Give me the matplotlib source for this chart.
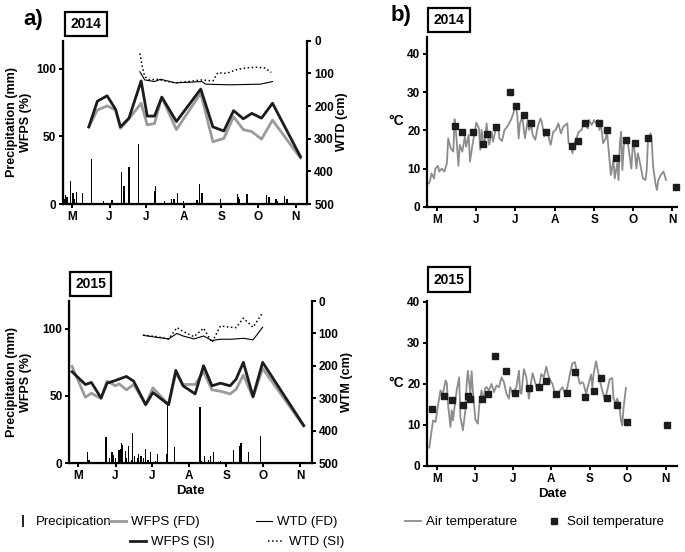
import matplotlib
matplotlib.use("Agg")
import matplotlib.pyplot as plt
from matplotlib.lines import Line2D

plt.rcParams["font.family"] = ["Liberation Sans", "DejaVu Sans"]

# day of year for the month starts shown on every x axis
month_ticks = [121, 152, 182, 213, 244, 274, 305]
month_labels = ["M", "J", "J", "A", "S", "O", "N"]

# ---- 2014, panel a ----
rain_doy_14 = [115, 116, 117, 120, 122, 123, 125, 130, 137, 143, 147, 154, 162, 164, 168, 176, 181, 184, 189, 190,
               197, 203, 205, 208, 213, 218, 224, 226, 228, 232, 243, 257, 258, 259, 261, 263, 265, 281, 283, 289,
               290, 292, 294, 296, 298]
rain_14 = [4, 6.5, 5, 17, 8, 4, 9, 8.5, 33, 1, 2.5, 3, 23.5, 13.5, 27.5, 44, 1, 1, 9.5, 13,
           2, 4, 4, 8.5, 2, 0.5, 3, 15, 8, 0.5, 3.5, 7.5, 5.5, 4, 1, 1, 7.5, 6.5, 5.5, 3.5,
           2, 1, 1, 6, 3.5]
wfps_doy_14 = [135, 142, 150, 157, 161, 168, 178, 183, 189, 195, 207, 227, 237, 246, 254, 262, 269, 277, 286, 309]
wfps_si_14 = [57, 76, 80, 70, 57, 63.5, 91, 65, 65, 79, 61, 85, 57, 54, 69, 63, 67, 63.5, 74.5, 35]
wfps_fd_14 = [57, 69.5, 72.5, 69.5, 56, 63, 74.5, 58.5, 59.5, 79, 55, 82, 46, 48.5, 64.5, 55, 53.5, 48, 62, 34]
wtd_si_doy_14 = [177, 179, 181, 185, 191, 198, 206, 217, 228, 237, 241, 248, 257, 265, 274, 280, 285]
wtd_si_14 = [39, 80, 110, 120, 118, 123, 129, 125, 120, 123, 98, 100, 88, 83, 81, 84, 97]
wtd_fd_doy_14 = [177, 181, 189, 194, 206, 228, 231, 251, 276, 286]
wtd_fd_14 = [95, 120, 125, 118, 129, 125, 133, 135, 133, 125]

# ---- 2015, panel a ----
rain_doy_15 = [116, 129, 130, 132, 144, 147, 149, 150, 152, 155, 156, 157, 158, 160, 161, 163, 165, 166, 168, 170,
               171, 173, 175, 177, 179, 181, 185, 187, 194, 195, 201, 216, 222, 223, 226, 229, 231, 233, 238, 239,
               250, 251, 255, 256, 262, 272]
rain_15 = [1, 8.5, 2.5, 1, 19.5, 3.5, 8.5, 6, 4, 10, 10.5, 15, 13.5, 9, 3.5, 13, 2.5, 22.5, 5.5, 4,
           7, 5.5, 3.5, 10.5, 2.5, 8.5, 1.5, 6.5, 6.5, 43, 12, 0.5, 41.5, 1.5, 5.5, 2.5, 5, 8, 1, 1.5,
           9.5, 1, 13, 15, 8, 20.5]
wfps_doy_15 = [116, 127, 132, 140, 145, 152, 155, 161, 167, 177, 183, 196, 202, 208, 218, 225, 232, 239, 247, 252,
               258, 266, 274, 308]
wfps_si_15 = [68, 58.5, 60, 48.5, 59.5, 61.5, 62.5, 64.5, 61, 43.5, 52.5, 43.5, 69, 57.5, 51.5, 72.5, 57.5, 59.5,
              57.5, 62.5, 75, 49.5, 75, 28]
wfps_fd_15 = [72, 49, 52, 48, 61, 57.5, 59, 54.5, 58.5, 43.5, 56, 43.5, 67, 58.5, 58.5, 68, 54.5, 53.5, 51.5, 55,
              65.5, 49, 70.5, 27.5]
wtd_doy_15 = [175, 186, 196, 203, 208, 217, 225, 232, 239, 247, 252, 258, 266, 274]
wtd_si_15 = [105, 110, 117, 82, 94, 110, 84, 128, 77, 81, 82, 53, 81, 36]
wtd_fd_15 = [106, 112, 117, 100, 108, 117, 108, 122, 118, 118, 117, 115, 120, 81]

# ---- temperatures, panel b ----
air_doy_14 = [115, 116, 117, 119, 120, 122, 123, 125, 127, 129, 130, 132, 134, 135, 136, 138, 139, 141, 143, 144,
              146, 147, 149, 152, 154, 155, 156, 158, 160, 161, 162, 164, 165, 167, 169, 170, 172, 174, 176, 179,
              181, 182, 183, 184, 185, 186, 188, 189, 190, 192, 193, 195, 196, 198, 200, 202, 203, 205, 206, 208,
              210, 212, 214, 216, 218, 220, 223, 224, 226, 227, 228, 230, 232, 234, 235, 236, 239, 240, 242, 244,
              246, 247, 248, 249, 251, 253, 254, 257, 259, 260, 262, 263, 264, 265, 266, 267, 268, 270, 271, 273,
              274, 275, 277, 278, 279, 281, 282, 284, 285, 286, 288, 289, 290, 292, 293, 294, 296, 298, 299, 300]
air_14 = [6.1, 7, 8.7, 7.4, 10, 10.7, 9.2, 10, 9.2, 11.4, 17.9, 15.3, 14.4, 22.9, 20.1, 10.7, 16.2, 14.4, 18.3, 15.7,
          18.8, 11.8, 16.2, 22, 20.5, 14.9, 20.1, 15.7, 21.8, 18.3, 16.2, 19.6, 17, 20.1, 21.4, 17.9, 17.2, 20.1, 20.9, 22.7,
          24.5, 26.6, 26.2, 23.6, 17.9, 21.8, 23.6, 20.1, 17.9, 22.7, 20.1, 21, 18.8, 17.5, 21, 23.1, 22.3, 18.4, 20.1, 18.8,
          16.2, 19.6, 20.1, 21.8, 19.2, 21, 21.8, 16.6, 16.2, 14, 16.2, 17.9, 19.6, 20.1, 21, 21.8, 20.5, 22.7, 21.4, 22.7,
          21.4, 22.7, 20.1, 22.3, 16.6, 17.9, 19.6, 8.3, 12.2, 7.4, 11.4, 7, 16.6, 19.6, 9.6, 15.7, 17.9, 17.5, 14.9, 10,
          15.7, 16.2, 10, 14, 12.7, 9.2, 7.4, 7, 9.6, 17.9, 19.2, 16.6, 10.5, 5.7, 4.4, 7, 8.3, 9.2, 8.3, 7]
soil_doy_14 = [135, 141, 149, 157, 160, 167, 178, 183, 189, 195, 206, 227, 231, 237, 248, 254, 261, 269, 276, 286, 308]
soil_14 = [21.2, 19.6, 19.5, 16.4, 19, 20.8, 29.9, 26.4, 24, 22, 19.6, 16, 17.3, 21.8, 21.8, 20.1, 12.7, 17.5, 16.6,
           17.9, 5.2]

air_doy_15 = [115, 118, 120, 122, 124, 126, 128, 129, 130, 132, 133, 134, 137, 139, 140, 142, 144, 145, 146, 148,
              149, 150, 152, 154, 155, 157, 158, 160, 161, 163, 165, 167, 169, 171, 173, 175, 177, 179, 180, 182,
              185, 187, 188, 189, 191, 193, 195, 197, 198, 199, 201, 203, 205, 207, 209, 211, 213, 214, 216, 218,
              220, 222, 224, 226, 228, 230, 232, 234, 236, 238, 239, 241, 243, 245, 246, 247, 249, 251, 252, 254,
              256, 258, 260, 262, 263, 265, 266, 268, 269, 270, 271, 273]
air_15 = [4.5, 11.1, 10.7, 14.8, 18.4, 17.6, 20.8, 20.4, 15.2, 9.5, 13.6, 11.1, 18.4, 21.6, 11.9, 8.7, 13.6, 20, 23.2, 17.6,
          23.1, 18.4, 11.3, 10.3, 14.4, 18.4, 15.6, 19, 19.2, 18.4, 20, 18, 19.6, 19.2, 21.6, 20.4, 17.6, 16.4, 19.2, 17.6,
          19.2, 23.2, 18, 17.6, 23.6, 21.6, 16.4, 20.8, 22.6, 21.6, 19.2, 19, 22.4, 21.6, 24.2, 21.6, 20.4, 20, 17.6, 16.8,
          18.4, 19.2, 17.6, 19.2, 22.4, 25, 25.3, 22.4, 20, 20.4, 20, 17.6, 20, 22.3, 19.2, 22.4, 25.5, 22.4, 20.8, 18.4,
          16, 18.4, 21.2, 21.4, 16.4, 15.2, 16.4, 14, 11.1, 9.9, 14, 19]
soil_doy_15 = [117, 127, 133, 142, 146, 148, 157, 162, 168, 177, 184, 195, 203, 209, 217, 226, 232, 240, 247, 253,
               258, 266, 274, 306]
soil_15 = [13.8, 17, 16.1, 14.9, 17, 16.2, 16.4, 17.6, 26.7, 23.1, 17.8, 19, 19.2, 20.8, 17.6, 17.8, 23, 16.8, 18.2,
           21.5, 16.5, 14.8, 10.6, 10.1]

W, H = 685, 552
GREY, DARK = "#9b9b9b", "#1c1c1c"
fig = plt.figure(figsize=(W / 100, H / 100), dpi=100)


def px(x, y):
    return x / W, 1 - y / H


def frame(ax, xlim, ylim, yticks):
    ax.set_xlim(*xlim); ax.set_ylim(*ylim)
    ax.set_xticks(month_ticks, month_labels, fontweight="bold")
    ax.set_yticks(yticks, [str(v) for v in yticks], fontweight="bold")
    ax.spines["top"].set_visible(False); ax.spines["right"].set_visible(False)
    for s in ("left", "bottom"):
        ax.spines[s].set_linewidth(1.6)
    ax.tick_params(direction="out", length=3, width=1.4, labelsize=8.5, pad=2)


def moisture_panel(rect, xlim, rain_doy, rain, doy, si, fd, si_doy, wtd_si, fd_doy, wtd_fd, rlabel, lx, ly):
    ax = fig.add_axes(rect)
    ax.bar(rain_doy, rain, width=1.1, color="black", linewidth=0)
    ax.plot(doy, fd, color=GREY, lw=2.0)
    ax.plot(doy, si, color=DARK, lw=2.0)
    frame(ax, xlim, (0, 120.7), [0, 50, 100])
    ax2 = ax.twinx()
    ax2.plot(fd_doy, wtd_fd, color="black", lw=0.8)
    ax2.plot(si_doy, wtd_si, color="black", lw=1.1, ls=":")
    ax2.set_ylim(500, 0)
    ticks = list(range(0, 501, 100))
    ax2.set_yticks(ticks, [str(v) for v in ticks], fontweight="bold")
    ax2.spines["top"].set_visible(False)
    ax2.spines["right"].set_linewidth(1.6)
    ax2.tick_params(direction="out", length=3, width=1.4, labelsize=8.5, pad=2)
    fig.text(*px(19, ly), "Precipitation (mm)\nWFPS (%)", rotation=90, ha="center", va="center",
             fontsize=9, fontweight="bold", linespacing=1.15)
    fig.text(*px(lx, ly), rlabel, rotation=90, ha="center", va="center", fontsize=9, fontweight="bold")
    return ax


def temp_panel(rect, xlim, ylim, air_doy, air, soil_doy, soil, lab_xy):
    ax = fig.add_axes(rect)
    ax.plot(air_doy, air, color="#8c8c8c", lw=1.3)
    ax.plot(soil_doy, soil, "s", color=DARK, ms=5, clip_on=False)
    frame(ax, xlim, ylim, [0, 10, 20, 30, 40])
    ax.set_ylabel("°C", rotation=0, fontsize=10, fontweight="bold", ha="center", va="center")
    ax.yaxis.set_label_coords(*lab_xy)
    return ax


def year_box(x, y, text):
    fig.text(*px(x, y), text, ha="center", va="center", fontsize=10, fontweight="bold",
             bbox=dict(boxstyle="square,pad=0.38", fc="white", ec="black", lw=1.6))


moisture_panel([0.0924, 0.6304, 0.3562, 0.2958], (114, 314.6), rain_doy_14, rain_14, wfps_doy_14,
               wfps_si_14, wfps_fd_14, wtd_si_doy_14, wtd_si_14, wtd_fd_doy_14, wtd_fd_14, "WTD (cm)", 342, 122)
ax_c = moisture_panel([0.1012, 0.1612, 0.3539, 0.2935], (113.7, 314.7), rain_doy_15, rain_15, wfps_doy_15,
                      wfps_si_15, wfps_fd_15, wtd_doy_15, wtd_si_15, wtd_doy_15, wtd_fd_15, "WTM (cm)", 347, 382)
ax_c.set_xlabel("Date", fontsize=9.5, fontweight="bold", labelpad=2)

temp_panel([0.6238, 0.6255, 0.3641, 0.308], (113.7, 308.4), (0, 44.5),
           air_doy_14, air_14, soil_doy_14, soil_14, (-0.125, 0.504))
ax_d = temp_panel([0.6238, 0.1558, 0.3641, 0.299], (113.4, 313.8), (0, 40.2),
                  air_doy_15, air_15, soil_doy_15, soil_15, (-0.125, 0.503))
ax_d.set_xlabel("Date", fontsize=9.5, fontweight="bold", labelpad=2)

fig.text(*px(33, 19), "a)", ha="center", va="center", fontsize=16, fontweight="bold")
fig.text(*px(401, 15), "b)", ha="center", va="center", fontsize=16, fontweight="bold")
year_box(86, 24, "2014")
year_box(449, 20, "2014")
year_box(90.5, 284, "2015")
year_box(449, 279.5, "2015")


def key(x, y, label, handle):
    fig.legend([handle], [label], loc="center left", bbox_to_anchor=px(x, y), frameon=False, fontsize=9.5,
               handlelength=1.2, handletextpad=0.4, borderpad=0, borderaxespad=0)


key(15, 522, "Precipication", Line2D([], [], color="black", marker="|", ls="none", ms=9, mew=1.2))
key(110, 522, "WFPS (FD)", Line2D([], [], color=GREY, lw=2.0))
key(256, 522, "WTD (FD)", Line2D([], [], color="black", lw=0.8))
key(130, 542, "WFPS (SI)", Line2D([], [], color=DARK, lw=2.0))
key(268, 542, "WTD (SI)", Line2D([], [], color="black", lw=1.1, ls=":"))
key(405, 522, "Air temperature", Line2D([], [], color="#8c8c8c", lw=1.3))
key(546, 522, "Soil temperature", Line2D([], [], color=DARK, marker="s", ls="none", ms=5))

fig.savefig("out.png", dpi=100)
